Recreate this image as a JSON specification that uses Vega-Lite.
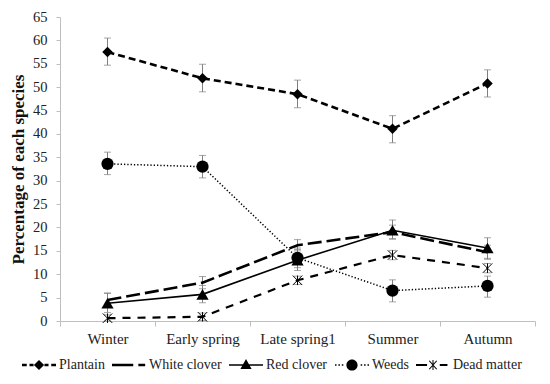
{
  "$schema": "https://vega.github.io/schema/vega-lite/v6.json",
  "width": 475,
  "height": 304,
  "autosize": "none",
  "padding": {"left": 60, "top": 17, "right": 15, "bottom": 63},
  "background": "white",
  "config": {
    "view": {"stroke": null},
    "font": "Liberation Serif",
    "axis": {"grid": false, "domainColor": "#bfbfbf", "tickColor": "#bfbfbf", "labelColor": "#222", "labelFont": "Liberation Serif", "titleFont": "Liberation Serif"},
    "axisY": {"labelOverlap": false, "labelFont": "Liberation Serif", "labelFontSize": 14.5, "tickSize": 4, "labelPadding": 9, "titleFontSize": 17, "titleFontWeight": "bold", "titleColor": "#111", "titlePadding": 5}
  },
  "data": {"values": [
    {"series": "Plantain", "season": "Winter", "value": 57.5, "lo": 54.7, "hi": 60.5},
    {"series": "Plantain", "season": "Early spring", "value": 51.9, "lo": 49.0, "hi": 54.9},
    {"series": "Plantain", "season": "Late spring1", "value": 48.5, "lo": 45.6, "hi": 51.5},
    {"series": "Plantain", "season": "Summer", "value": 41.1, "lo": 38.1, "hi": 43.9},
    {"series": "Plantain", "season": "Autumn", "value": 50.8, "lo": 47.9, "hi": 53.7},
    {"series": "White clover", "season": "Winter", "value": 4.5, "lo": 3.0, "hi": 6.0},
    {"series": "White clover", "season": "Early spring", "value": 8.2, "lo": 6.9, "hi": 9.5},
    {"series": "White clover", "season": "Late spring1", "value": 16.2, "lo": 15.0, "hi": 17.4},
    {"series": "White clover", "season": "Summer", "value": 19.0, "lo": 17.5, "hi": 20.5},
    {"series": "White clover", "season": "Autumn", "value": 14.7, "lo": 13.2, "hi": 16.2},
    {"series": "Red clover", "season": "Winter", "value": 3.8, "lo": 1.8, "hi": 5.9},
    {"series": "Red clover", "season": "Early spring", "value": 5.7, "lo": 3.9, "hi": 7.6},
    {"series": "Red clover", "season": "Late spring1", "value": 13.0, "lo": 10.8, "hi": 15.3},
    {"series": "Red clover", "season": "Summer", "value": 19.4, "lo": 17.6, "hi": 21.6},
    {"series": "Red clover", "season": "Autumn", "value": 15.6, "lo": 13.4, "hi": 17.8},
    {"series": "Weeds", "season": "Winter", "value": 33.6, "lo": 31.3, "hi": 36.1},
    {"series": "Weeds", "season": "Early spring", "value": 33.0, "lo": 30.6, "hi": 35.4},
    {"series": "Weeds", "season": "Late spring1", "value": 13.5, "lo": 11.4, "hi": 15.6},
    {"series": "Weeds", "season": "Summer", "value": 6.5, "lo": 4.1, "hi": 8.8},
    {"series": "Weeds", "season": "Autumn", "value": 7.5, "lo": 5.1, "hi": 9.6},
    {"series": "Dead matter", "season": "Winter", "value": 0.6, "lo": 0.0, "hi": 1.3},
    {"series": "Dead matter", "season": "Early spring", "value": 0.9, "lo": 0.1, "hi": 1.7},
    {"series": "Dead matter", "season": "Late spring1", "value": 8.7, "lo": 7.8, "hi": 9.6},
    {"series": "Dead matter", "season": "Summer", "value": 14.1, "lo": 13.1, "hi": 15.1},
    {"series": "Dead matter", "season": "Autumn", "value": 11.3, "lo": 10.3, "hi": 12.3}
  ]},
  "encoding": {
    "x": {
      "field": "season", "type": "nominal",
      "sort": ["Winter", "Early spring", "Late spring1", "Summer", "Autumn"],
      "scale": {"type": "band", "paddingInner": 0, "paddingOuter": 0},
      "axis": {"title": null, "labelAngle": 0, "labelFontSize": 15, "labelPadding": 5, "tickBand": "extent", "tickSize": 5}
    }
  },
  "layer": [
    {
      "mark": {"type": "rule", "color": "#7f7f7f", "strokeWidth": 1},
      "encoding": {
        "y": {"field": "lo", "type": "quantitative", "scale": {"domain": [0, 65], "nice": false},
          "axis": {"title": "Percentage of each species", "values": [0,5,10,15,20,25,30,35,40,45,50,55,60,65], "labelOverlap": false}},
        "y2": {"field": "hi"}
      }
    },
    {
      "mark": {"type": "tick", "color": "#7f7f7f", "thickness": 1, "size": 7},
      "encoding": {"y": {"field": "lo", "type": "quantitative", "axis": {"title": "Percentage of each species", "values": [0,5,10,15,20,25,30,35,40,45,50,55,60,65], "labelOverlap": false}}}
    },
    {
      "mark": {"type": "tick", "color": "#7f7f7f", "thickness": 1, "size": 7},
      "encoding": {"y": {"field": "hi", "type": "quantitative", "axis": {"title": "Percentage of each species", "values": [0,5,10,15,20,25,30,35,40,45,50,55,60,65], "labelOverlap": false}}}
    },
    {
      "transform": [{"filter": "datum.series === 'Plantain'"}],
      "mark": {"type": "line", "color": "black", "strokeWidth": 2.6, "strokeDash": [7, 4]},
      "encoding": {"y": {"field": "value", "type": "quantitative", "axis": {"title": "Percentage of each species", "values": [0,5,10,15,20,25,30,35,40,45,50,55,60,65], "labelOverlap": false}}}
    },
    {
      "transform": [{"filter": "datum.series === 'White clover'"}],
      "mark": {"type": "line", "color": "black", "strokeWidth": 2.6, "strokeDash": [14, 5]},
      "encoding": {"y": {"field": "value", "type": "quantitative", "axis": {"title": "Percentage of each species", "values": [0,5,10,15,20,25,30,35,40,45,50,55,60,65], "labelOverlap": false}}}
    },
    {
      "transform": [{"filter": "datum.series === 'Red clover'"}],
      "mark": {"type": "line", "color": "black", "strokeWidth": 1.6},
      "encoding": {"y": {"field": "value", "type": "quantitative", "axis": {"title": "Percentage of each species", "values": [0,5,10,15,20,25,30,35,40,45,50,55,60,65], "labelOverlap": false}}}
    },
    {
      "transform": [{"filter": "datum.series === 'Weeds'"}],
      "mark": {"type": "line", "color": "black", "strokeWidth": 1.5, "strokeDash": [1.3, 2]},
      "encoding": {"y": {"field": "value", "type": "quantitative", "axis": {"title": "Percentage of each species", "values": [0,5,10,15,20,25,30,35,40,45,50,55,60,65], "labelOverlap": false}}}
    },
    {
      "transform": [{"filter": "datum.series === 'Dead matter'"}],
      "mark": {"type": "line", "color": "black", "strokeWidth": 2.2, "strokeDash": [8, 7]},
      "encoding": {"y": {"field": "value", "type": "quantitative", "axis": {"title": "Percentage of each species", "values": [0,5,10,15,20,25,30,35,40,45,50,55,60,65], "labelOverlap": false}}}
    },
    {
      "transform": [{"filter": "datum.series === 'Plantain'"}],
      "mark": {"type": "point", "shape": "diamond", "filled": true, "color": "black", "size": 110, "opacity": 1},
      "encoding": {"y": {"field": "value", "type": "quantitative", "axis": {"title": "Percentage of each species", "values": [0,5,10,15,20,25,30,35,40,45,50,55,60,65], "labelOverlap": false}}}
    },
    {
      "transform": [{"filter": "datum.series === 'Red clover'"}],
      "mark": {"type": "point", "shape": "triangle-up", "filled": true, "color": "black", "size": 150, "opacity": 1},
      "encoding": {"y": {"field": "value", "type": "quantitative", "axis": {"title": "Percentage of each species", "values": [0,5,10,15,20,25,30,35,40,45,50,55,60,65], "labelOverlap": false}}}
    },
    {
      "transform": [{"filter": "datum.series === 'Weeds'"}],
      "mark": {"type": "point", "shape": "circle", "filled": true, "color": "black", "size": 150, "opacity": 1},
      "encoding": {"y": {"field": "value", "type": "quantitative", "axis": {"title": "Percentage of each species", "values": [0,5,10,15,20,25,30,35,40,45,50,55,60,65], "labelOverlap": false}}}
    },
    {
      "transform": [{"filter": "datum.series === 'Dead matter'"}],
      "mark": {"type": "point", "shape": "M-1,-1L1,1M-1,1L1,-1M0,-1V1", "filled": false, "color": "black", "strokeWidth": 1, "size": 90, "opacity": 1},
      "encoding": {"y": {"field": "value", "type": "quantitative", "axis": {"title": "Percentage of each species", "values": [0,5,10,15,20,25,30,35,40,45,50,55,60,65], "labelOverlap": false}}}
    },
    {
      "transform": [{"filter": "datum.value < 0"}],
      "mark": {"type": "point", "size": 1156},
      "encoding": {
        "y": {"field": "value", "type": "quantitative", "axis": {"title": "Percentage of each species", "values": [0,5,10,15,20,25,30,35,40,45,50,55,60,65], "labelOverlap": false}},
        "fill": {"value": "black"},
        "fillOpacity": {"value": 1},
        "shape": {
          "field": "series", "type": "nominal",
          "scale": {
            "domain": ["Plantain", "White clover", "Red clover", "Weeds", "Dead matter"],
            "range": [
              "M-1,-0.075H-0.72V0.075H-1Z M-0.56,-0.075H-0.32V0.075H-0.56Z M0.32,-0.075H0.56V0.075H0.32Z M0.72,-0.075H1V0.075H0.72Z M0,-0.3L0.3,0L0,0.3L-0.3,0Z",
              "M-1,-0.08H0.25V0.08H-1Z M0.55,-0.08H0.95V0.08H0.55Z",
              "M-1,-0.05H1V0.05H-1Z M0,-0.36L0.33,0.24L-0.33,0.24Z",
              "M-1,-0.045H-0.91V0.045H-1Z M-0.8,-0.045H-0.71V0.045H-0.8Z M-0.6,-0.045H-0.51V0.045H-0.6Z M0.51,-0.045H0.6V0.045H0.51Z M0.71,-0.045H0.8V0.045H0.71Z M0.91,-0.045H1V0.045H0.91Z M0.33,0A0.33,0.33,0,1,1,-0.33,0A0.33,0.33,0,1,1,0.33,0Z",
              "M-1,-0.065H-0.35V0.065H-1Z M0.4,-0.065H0.85V0.065H0.4Z M-0.195,-0.272L0.245,0.228L0.195,0.272L-0.245,-0.228Z M-0.245,0.228L0.195,-0.272L0.245,-0.228L-0.195,0.272Z M-0.03,-0.3H0.03V0.3H-0.03Z"
            ]
          },
          "legend": {
            "title": null, "orient": "none", "legendX": -38, "legendY": 331, "direction": "horizontal", "columns": 5,
            "labelFont": "Liberation Serif", "labelFontSize": 14, "labelColor": "#222", "symbolSize": 1156,
            "symbolFillColor": "black", "symbolStrokeWidth": 0, "symbolStrokeColor": "transparent", "symbolOpacity": 1,
            "columnPadding": 7, "labelOffset": 3
          }
        }
      }
    }
  ]
}
